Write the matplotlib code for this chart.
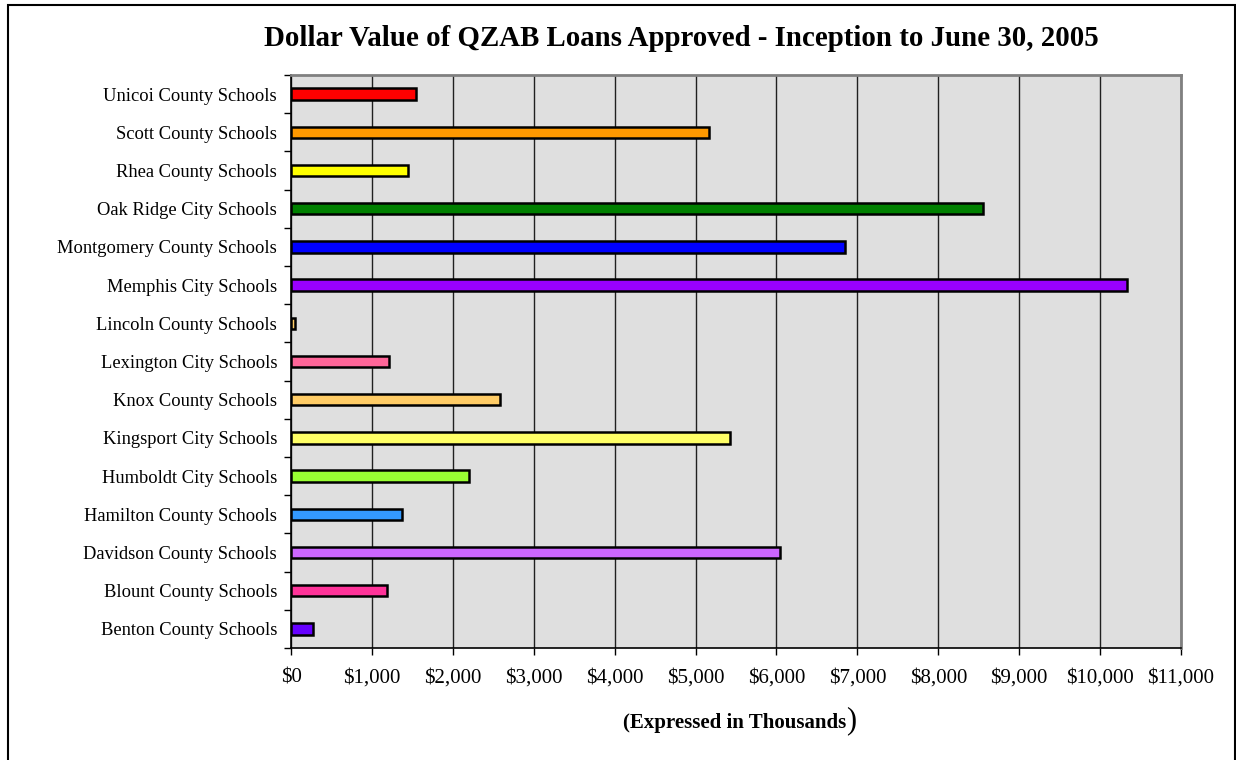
import matplotlib
matplotlib.use("Agg")
import matplotlib.pyplot as plt
from matplotlib.patches import Rectangle
from matplotlib.ticker import FuncFormatter, MultipleLocator, FixedLocator

schools = ["Benton County Schools", "Blount County Schools", "Davidson County Schools",
           "Hamilton County Schools", "Humboldt City Schools", "Kingsport City Schools",
           "Knox County Schools", "Lexington City Schools", "Lincoln County Schools",
           "Memphis City Schools", "Montgomery County Schools", "Oak Ridge City Schools",
           "Rhea County Schools", "Scott County Schools", "Unicoi County Schools"]
values = [270, 1190, 6040, 1375, 2200, 5430, 2585, 1215, 50,
          10330, 6850, 8550, 1440, 5170, 1550]
colors = ["#6600FF", "#FF3399", "#CC66FF", "#3399FF", "#99FF33", "#FFFF66",
          "#FFCC66", "#FF6699", "#FFCC66", "#9900FF", "#0000FF", "#008000",
          "#FFFF00", "#FF9900", "#FF0000"]
title = "Dollar Value of QZAB Loans Approved - Inception to June 30, 2005"
xlabel = "(Expressed in Thousands"

plt.rcParams['font.family'] = ['Liberation Serif', 'DejaVu Serif']

fig = plt.figure(figsize=(12.36, 7.6), dpi=100)
ax = fig.add_axes([291/1236, 1-648/760, 890/1236, 573/760])
ax.set_facecolor("#DFDFDF")

ypos = list(range(len(schools)))
ax.barh(ypos, values, height=0.3, color=colors, edgecolor="black", linewidth=1.8, zorder=3)

ax.set_xlim(0, 11000)
ax.set_ylim(-0.5, len(schools) - 0.5)
ax.xaxis.set_major_locator(MultipleLocator(1000))
ax.xaxis.set_major_formatter(FuncFormatter(lambda v, p: "${:,.0f}".format(v)))
ax.set_yticks(ypos)
ax.set_yticklabels(schools, fontsize=13.3)
ax.yaxis.set_minor_locator(FixedLocator([i - 0.5 for i in range(len(schools) + 1)]))
ax.tick_params(axis="y", which="major", length=0, pad=10)
ax.tick_params(axis="y", which="minor", length=5, width=1, direction="out")
ax.tick_params(axis="x", which="major", length=5, width=1, direction="out", labelsize=15, pad=10)

ax.grid(axis="x", color="#202020", linewidth=1, zorder=1)
ax.set_axisbelow(True)
for s in ["top", "right"]:
    ax.spines[s].set_color("#808080")
    ax.spines[s].set_linewidth(2)
for s in ["left", "bottom"]:
    ax.spines[s].set_color("black")
    ax.spines[s].set_linewidth(1.2)

fig.text(681/1236, 1-38/760, title, ha="center", va="center", fontsize=20.8, fontweight="bold")
fig.text(846/1236, 1-723/760, xlabel, ha="right", va="center", fontsize=15, fontweight="bold")
fig.text(846/1236, 1-721/760, ")", ha="left", va="center", fontsize=22)

fig.patches.append(Rectangle((8/1236, -0.01), (1235-8)/1236, 1-5/760 + 0.01,
                             transform=fig.transFigure, fill=False, edgecolor="black",
                             linewidth=1.5))

fig.savefig("out.png", dpi=100)
